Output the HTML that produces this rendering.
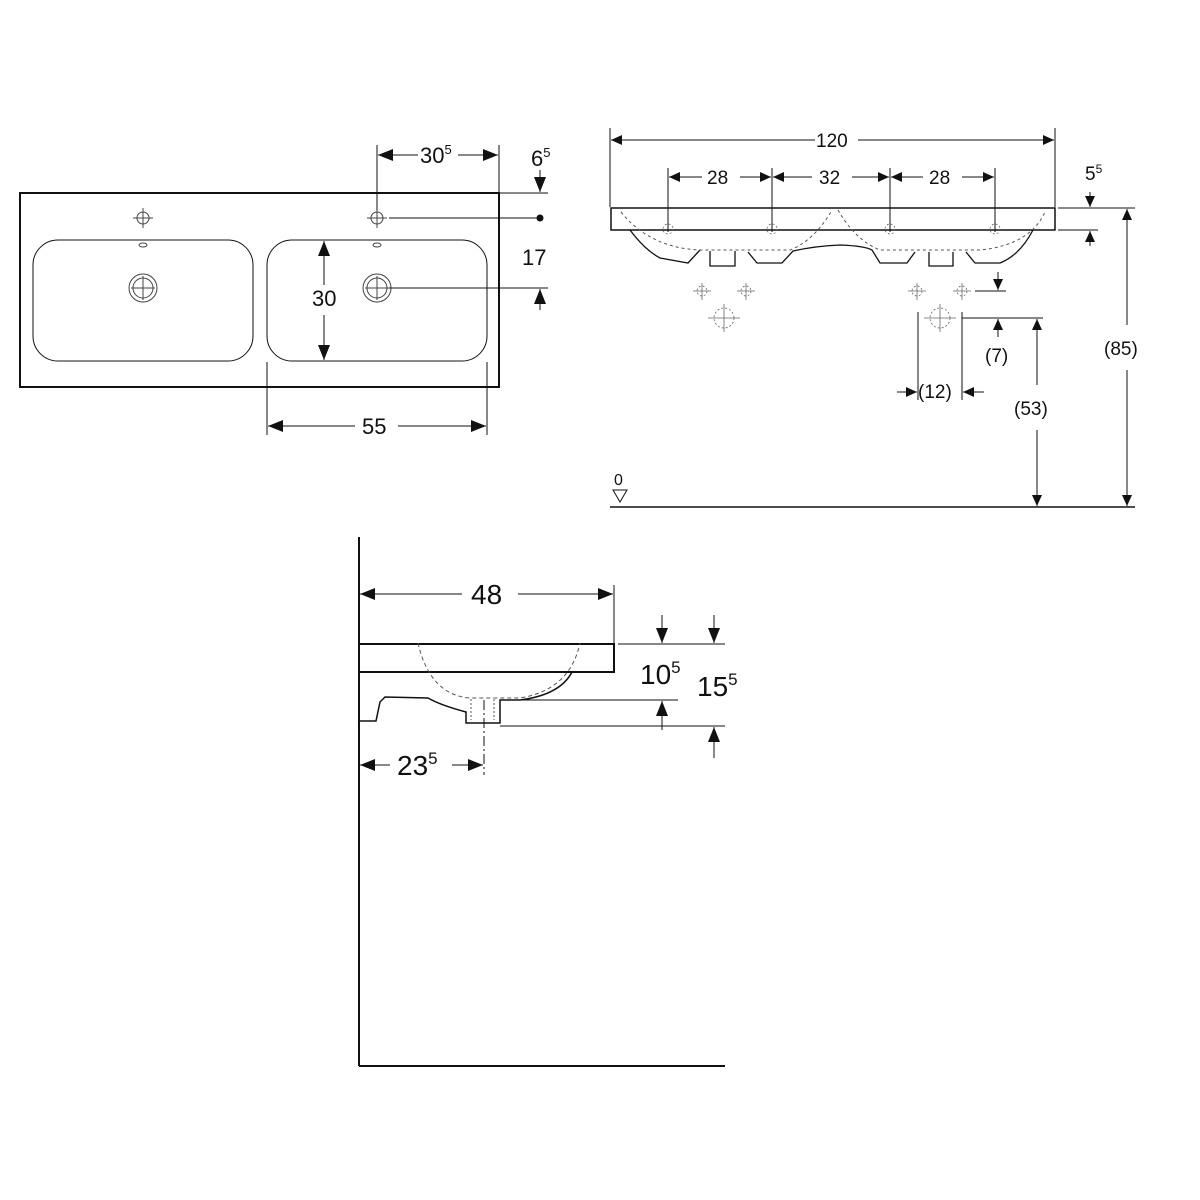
<!DOCTYPE html>
<html><head><meta charset="utf-8"><style>html,body{margin:0;padding:0;background:#fff}svg{display:block}text{font-family:"Liberation Sans",sans-serif;fill:#111}</style></head><body>
<svg width="1200" height="1200" viewBox="0 0 1200 1200" xmlns="http://www.w3.org/2000/svg">
<defs>
<marker id="a" markerUnits="userSpaceOnUse" markerWidth="16" markerHeight="12" refX="15" refY="6" orient="auto-start-reverse"><path d="M0,0 L15,6 L0,12 Z" fill="#111"/></marker>
<marker id="b" markerUnits="userSpaceOnUse" markerWidth="12" markerHeight="10" refX="11" refY="5" orient="auto-start-reverse"><path d="M0,0 L11,5 L0,10 Z" fill="#111"/></marker>
</defs>
<g stroke="#111" fill="none" stroke-width="1">
<!-- Plan view -->
<rect x="20" y="193" width="479" height="194" stroke-width="2"/>
<rect x="33" y="240" width="220" height="121" rx="25"/>
<rect x="267" y="240" width="220" height="121" rx="25"/>
<g stroke="#444">
<circle cx="143" cy="218" r="6"/><line x1="133" y1="218" x2="153" y2="218"/><line x1="143" y1="208" x2="143" y2="228"/>
<circle cx="377" cy="218" r="6"/><line x1="367" y1="218" x2="387" y2="218"/><line x1="377" y1="208" x2="377" y2="228"/>
<ellipse cx="143" cy="245" rx="4" ry="2"/><ellipse cx="377" cy="245" rx="4" ry="2"/>
<circle cx="143" cy="288" r="14"/><circle cx="143" cy="288" r="10"/><line x1="131" y1="288" x2="155" y2="288"/><line x1="143" y1="276" x2="143" y2="300"/>
<circle cx="377" cy="288" r="14"/><circle cx="377" cy="288" r="10"/><line x1="365" y1="288" x2="389" y2="288"/><line x1="377" y1="276" x2="377" y2="300"/>
</g>
<line x1="389" y1="218" x2="538" y2="218"/><circle cx="540" cy="218" r="3" fill="#111"/>
<line x1="389" y1="288" x2="548" y2="288"/>
<line x1="499" y1="193" x2="548" y2="193"/>
<line x1="377" y1="145" x2="377" y2="210"/><line x1="499" y1="145" x2="499" y2="193"/>
<line x1="378" y1="155" x2="418" y2="155" marker-start="url(#a)"/><line x1="458" y1="155" x2="498" y2="155" marker-end="url(#a)"/>
<line x1="540" y1="170" x2="540" y2="192" marker-end="url(#a)"/>
<line x1="540" y1="310" x2="540" y2="289" marker-end="url(#a)"/>
<line x1="324" y1="241" x2="324" y2="285" marker-start="url(#a)"/><line x1="324" y1="315" x2="324" y2="360" marker-end="url(#a)"/>
<line x1="267" y1="362" x2="267" y2="435"/><line x1="487" y1="362" x2="487" y2="435"/>
<line x1="268" y1="426" x2="355" y2="426" marker-start="url(#a)"/><line x1="398" y1="426" x2="486" y2="426" marker-end="url(#a)"/>
<!-- Front view -->
<line x1="610" y1="128" x2="610" y2="207"/><line x1="1055" y1="128" x2="1055" y2="207"/>
<line x1="611" y1="140" x2="815" y2="140" marker-start="url(#b)"/><line x1="858" y1="140" x2="1054" y2="140" marker-end="url(#b)"/>
<line x1="668" y1="168" x2="668" y2="232"/><line x1="772" y1="168" x2="772" y2="232"/><line x1="890" y1="168" x2="890" y2="232"/><line x1="995" y1="168" x2="995" y2="232"/>
<line x1="669" y1="177" x2="702" y2="177" marker-start="url(#b)"/><line x1="740" y1="177" x2="771" y2="177" marker-end="url(#b)"/>
<line x1="773" y1="177" x2="812" y2="177" marker-start="url(#b)"/><line x1="852" y1="177" x2="889" y2="177" marker-end="url(#b)"/>
<line x1="891" y1="177" x2="923" y2="177" marker-start="url(#b)"/><line x1="962" y1="177" x2="994" y2="177" marker-end="url(#b)"/>
<path d="M611,208 L1055,208 L1055,230 L611,230 Z" stroke-width="1.5"/>
<path d="M630,230 Q645,250 660,258 L688,263 L700,250 M710,251 L710,266 L735,266 L735,251 M748,252 L757,263 L782,263 L793,251 Q815,246 840,245 Q865,246 872,250 L880,263 L907,263 L915,252 M929,252 L929,266 L953,266 L953,252 M966,252 L975,263 L1000,263 Q1020,255 1033,230" stroke-width="1.3"/>
<path d="M621,212 Q650,248 700,250 L790,250 Q815,240 832,210 M838,210 Q855,240 880,250 L980,250 Q1030,245 1045,212" stroke-dasharray="3,3" stroke="#555"/>
<g stroke="#666" stroke-width="0.8">
<circle cx="668" cy="229" r="5" stroke-dasharray="2,2"/><circle cx="772" cy="229" r="5" stroke-dasharray="2,2"/><circle cx="890" cy="229" r="5" stroke-dasharray="2,2"/><circle cx="995" cy="229" r="5" stroke-dasharray="2,2"/>
<line x1="693" y1="291" x2="711" y2="291"/><line x1="702" y1="283" x2="702" y2="300"/><circle cx="702" cy="291" r="5" stroke-dasharray="2,2"/>
<line x1="737" y1="291" x2="755" y2="291"/><line x1="746" y1="283" x2="746" y2="300"/><circle cx="746" cy="291" r="5" stroke-dasharray="2,2"/>
<line x1="708" y1="318" x2="740" y2="318"/><line x1="724" y1="304" x2="724" y2="332"/><circle cx="724" cy="318" r="10" stroke-dasharray="2,2"/>
<line x1="908" y1="291" x2="926" y2="291"/><line x1="917" y1="283" x2="917" y2="300"/><circle cx="917" cy="291" r="5" stroke-dasharray="2,2"/>
<line x1="953" y1="291" x2="971" y2="291"/><line x1="962" y1="283" x2="962" y2="300"/><circle cx="962" cy="291" r="5" stroke-dasharray="2,2"/>
<line x1="924" y1="318" x2="956" y2="318"/><line x1="940" y1="304" x2="940" y2="332"/><circle cx="940" cy="318" r="10" stroke-dasharray="2,2"/>
</g>
<line x1="1058" y1="208" x2="1135" y2="208"/><line x1="1058" y1="230" x2="1098" y2="230"/>
<line x1="1090" y1="192" x2="1090" y2="207" marker-end="url(#b)"/><line x1="1090" y1="246" x2="1090" y2="231" marker-end="url(#b)"/>
<line x1="975" y1="291" x2="1006" y2="291"/><line x1="998" y1="272" x2="998" y2="290" marker-end="url(#b)"/>
<line x1="962" y1="318" x2="1043" y2="318"/><line x1="998" y1="337" x2="998" y2="319" marker-end="url(#b)"/>
<line x1="918" y1="312" x2="918" y2="400"/><line x1="962" y1="312" x2="962" y2="400"/>
<line x1="897" y1="392" x2="917" y2="392" marker-end="url(#b)"/><line x1="984" y1="392" x2="963" y2="392" marker-end="url(#b)"/>
<line x1="1037" y1="319" x2="1037" y2="385" marker-start="url(#b)"/><line x1="1037" y1="430" x2="1037" y2="506" marker-end="url(#b)"/>
<line x1="1127" y1="209" x2="1127" y2="325" marker-start="url(#b)"/><line x1="1127" y1="370" x2="1127" y2="506" marker-end="url(#b)"/>
<line x1="610" y1="507" x2="1135" y2="507" stroke-width="1.5"/>
<path d="M613,490 L627,490 L620,502 Z"/>
<!-- Side view -->
<line x1="359" y1="537" x2="359" y2="1066" stroke-width="2"/><line x1="359" y1="1066" x2="725" y2="1066" stroke-width="2"/>
<line x1="614" y1="585" x2="614" y2="643"/>
<line x1="360" y1="594" x2="462" y2="594" marker-start="url(#a)"/><line x1="518" y1="594" x2="613" y2="594" marker-end="url(#a)"/>
<path d="M359,644 L614,644 L614,672 L359,672" stroke-width="2"/>
<path d="M572,672 Q560,695 520,700 L500,700 L500,723 L466,723 L466,712 Q440,705 428,698 L385,697 L380,702 L376,721 L359,721" stroke-width="1.5"/>
<path d="M418,643 Q430,695 470,698 L520,698 Q570,690 580,643" stroke-dasharray="4,3" stroke="#555"/>
<path d="M471,699 L471,720 M494,699 L494,720" stroke-dasharray="2,2" stroke="#555"/>
<line x1="484" y1="700" x2="484" y2="775" stroke-dasharray="10,3,2,3"/>
<line x1="618" y1="644" x2="725" y2="644"/><line x1="500" y1="700" x2="678" y2="700"/><line x1="500" y1="726" x2="725" y2="726"/>
<line x1="662" y1="615" x2="662" y2="643" marker-end="url(#a)"/><line x1="662" y1="730" x2="662" y2="701" marker-end="url(#a)"/>
<line x1="714" y1="615" x2="714" y2="643" marker-end="url(#a)"/><line x1="714" y1="758" x2="714" y2="727" marker-end="url(#a)"/>
<line x1="360" y1="765" x2="390" y2="765" marker-start="url(#a)"/><line x1="452" y1="765" x2="483" y2="765" marker-end="url(#a)"/>
</g>
<g font-size="22">
<text x="420" y="163">30<tspan font-size="13" dy="-9">5</tspan></text>
<text x="531" y="166">6<tspan font-size="13" dy="-9">5</tspan></text>
<text x="522" y="265">17</text>
<text x="312" y="306">30</text>
<text x="362" y="434">55</text>
</g>
<g font-size="19">
<text x="816" y="147">120</text>
<text x="707" y="184">28</text>
<text x="819" y="184">32</text>
<text x="929" y="184">28</text>
<text x="1085" y="180">5<tspan font-size="12" dy="-7">5</tspan></text>
<text x="985" y="362">(7)</text>
<text x="918" y="398">(12)</text>
<text x="1014" y="415">(53)</text>
<text x="1104" y="355">(85)</text>
<text x="614" y="485" font-size="16">0</text>
</g>
<g font-size="28">
<text x="471" y="604">48</text>
<text x="640" y="684">10<tspan font-size="17" dy="-11">5</tspan></text>
<text x="697" y="696">15<tspan font-size="17" dy="-11">5</tspan></text>
<text x="397" y="775">23<tspan font-size="17" dy="-11">5</tspan></text>
</g>
</svg>
</body></html>
